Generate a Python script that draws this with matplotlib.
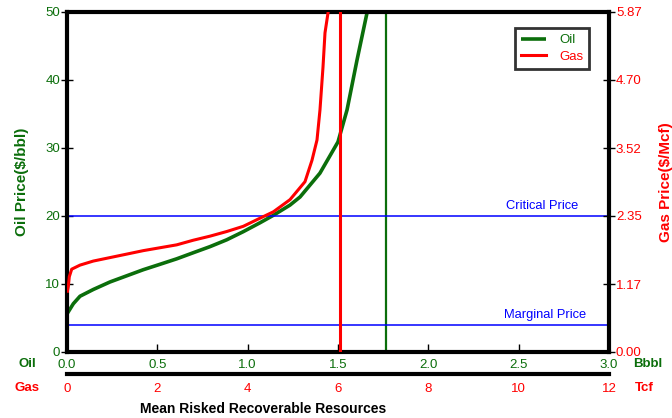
import numpy as np
import matplotlib
matplotlib.use("Agg")
import matplotlib.pyplot as plt
from matplotlib import font_manager

plt.rcParams['font.family'] = ['Liberation Sans', 'DejaVu Sans']

# oil supply curve: resources (Bbbl) vs price ($/bbl)
oil_bbbl = [0.0, 0.007, 0.035, 0.072, 0.146, 0.238, 0.33, 0.422, 0.515, 0.607, 0.699,
            0.792, 0.884, 0.976, 1.068, 1.142, 1.234, 1.29, 1.40, 1.50, 1.55, 1.605, 1.66, 1.68]
oil_price = [5.6, 5.9, 7.1, 8.2, 9.2, 10.3, 11.2, 12.1, 12.9, 13.7, 14.6,
             15.5, 16.5, 17.7, 19.0, 20.1, 21.6, 22.8, 26.3, 30.9, 35.6, 42.9, 49.8, 52.0]

# gas supply curve: resources (Tcf) vs price ($/Mcf)
gas_tcf = [0.01, 0.029, 0.051, 0.104, 0.288, 0.582, 0.952, 1.322, 1.689, 2.059, 2.429,
           2.796, 3.166, 3.536, 3.903, 4.273, 4.568, 4.937, 5.269, 5.424, 5.535, 5.601,
           5.668, 5.712, 5.778, 5.80]
gas_price = [1.05, 1.13, 1.30, 1.43, 1.50, 1.57, 1.63, 1.69, 1.75, 1.80, 1.85,
             1.93, 2.00, 2.08, 2.17, 2.31, 2.42, 2.63, 2.94, 3.31, 3.66, 4.18,
             4.92, 5.51, 5.85, 6.0]

oil_mean = 1.765   # Bbbl
gas_mean = 6.04    # Tcf
critical_price = 20
marginal_price = 4

oil_ticks = [0.0, 0.5, 1.0, 1.5, 2.0, 2.5, 3.0]
gas_ticks = [0, 2, 4, 6, 8, 10, 12]
oil_yticks = [0, 10, 20, 30, 40, 50]
gas_yticks = [0.00, 1.17, 2.35, 3.52, 4.70, 5.87]

GREEN = '#0b6e0b'
RED = '#ff0000'
BLUE = '#0000ff'

# narrow font for the bottom title if there is one
names = {f.name for f in font_manager.fontManager.ttflist}
title_font = 'Liberation Sans Narrow' if 'Liberation Sans Narrow' in names else 'Liberation Sans'
title_size = 12 if title_font == 'Liberation Sans Narrow' else 10

fig = plt.figure(figsize=(6.72, 4.18), dpi=100)
pos = [67 / 672, 66 / 418, 542 / 672, 340 / 418]
ax = fig.add_axes(pos)
gax = fig.add_axes(pos, label='gas')
gax.patch.set_visible(False)

# oil axes
ax.set_xlim(0, 3.0)
ax.set_ylim(0, 50)
ax.plot(oil_bbbl, oil_price, color=GREEN, lw=2.6, solid_capstyle='butt')
ax.axvline(oil_mean, color=GREEN, lw=1.6)
ax.axhline(critical_price, color=BLUE, lw=1.1)
ax.axhline(marginal_price, color=BLUE, lw=1.1)
ax.text(2.83, critical_price + 0.6, 'Critical Price', color=BLUE, fontsize=9.3,
        ha='right', va='bottom')
ax.text(2.875, marginal_price + 0.6, 'Marginal Price', color=BLUE, fontsize=9.3,
        ha='right', va='bottom')

ax.set_xticks(oil_ticks)
ax.set_xticklabels(['%.1f' % t for t in oil_ticks])
ax.set_yticks(oil_yticks)
ax.tick_params(axis='x', direction='in', length=6, width=1, colors='black',
               labelcolor=GREEN, labelsize=9.5, pad=5)
ax.tick_params(axis='y', direction='inout', length=8, width=1, colors='black',
               labelcolor=GREEN, labelsize=9.5, pad=1)
for s in ['left', 'bottom', 'top']:
    ax.spines[s].set_linewidth(3)
ax.spines['right'].set_visible(False)
ax.set_ylabel('Oil Price($/bbl)', color=GREEN, fontsize=11, fontweight='bold',
              labelpad=12)

# gas axes
gax.set_xlim(0, 12)
gax.set_ylim(0, 5.87)
gax.plot(gas_tcf, gas_price, color=RED, lw=2.2)
gax.axvline(gas_mean, color=RED, lw=2.2)
gax.yaxis.tick_right()
gax.yaxis.set_label_position('right')
gax.set_yticks(gas_yticks)
gax.set_yticklabels(['%.2f' % t for t in gas_yticks])
gax.tick_params(axis='y', direction='inout', length=8, width=1, colors='black',
                labelcolor=RED, labelsize=9.5, pad=1)
gax.set_xticks(gas_ticks)
gax.set_xticks([0, 12], minor=True)
gax.tick_params(axis='x', which='major', length=0, labelcolor=RED, labelsize=9.5, pad=6)
gax.tick_params(axis='x', which='minor', direction='out', length=4, width=1.5)
gax.spines['bottom'].set_position(('outward', 16))
gax.spines['bottom'].set_linewidth(3)
gax.spines['right'].set_linewidth(3)
gax.spines['top'].set_visible(False)
gax.spines['left'].set_visible(False)
gax.set_ylabel('Gas Price($/Mcf)', color=RED, fontsize=11, fontweight='bold',
               labelpad=12)

leg = gax.legend(handles=[ax.lines[0], gax.lines[0]], labels=['Oil', 'Gas'],
                 loc='upper right', bbox_to_anchor=(0.963, 0.953), borderaxespad=0,
                 fancybox=False, edgecolor='black', fontsize=9.5, handlelength=1.9,
                 borderpad=0.45, labelspacing=0.35, handletextpad=1.0)
leg.get_frame().set_linewidth(2)
for t, c in zip(leg.get_texts(), [GREEN, RED]):
    t.set_color(c)

# axis unit labels
fig.text(27 / 672, 1 - 364 / 418, 'Oil', color=GREEN, fontsize=9.5,
         fontweight='bold', ha='center', va='center')
fig.text(27 / 672, 1 - 388 / 418, 'Gas', color=RED, fontsize=9.5,
         fontweight='bold', ha='center', va='center')
fig.text(633 / 672, 1 - 364 / 418, 'Bbbl', color=GREEN, fontsize=9.5,
         fontweight='bold', ha='left', va='center')
fig.text(635 / 672, 1 - 388 / 418, 'Tcf', color=RED, fontsize=9.5,
         fontweight='bold', ha='left', va='center')
fig.text(263 / 672, 1 - 409 / 418, 'Mean Risked Recoverable Resources',
         color='black', fontsize=title_size, fontweight='bold', ha='center',
         va='center', family=title_font)

fig.savefig('out.png', dpi=100)
